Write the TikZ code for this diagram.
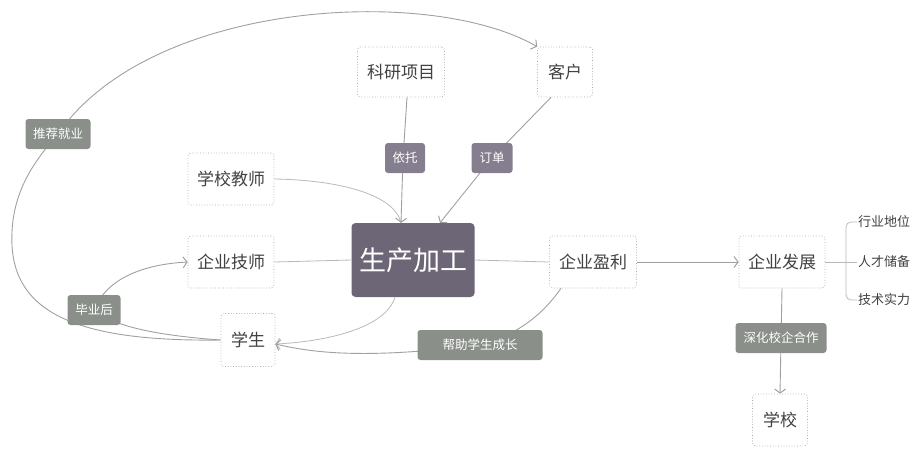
\documentclass[tikz,border=0pt]{standalone}
\usepackage{fontspec}
\newfontfamily\cjk{Noto Sans CJK SC}
\usetikzlibrary{arrows.meta,calc}
\definecolor{tagG}{RGB}{138,143,138}
\definecolor{tagP}{RGB}{133,126,143}
\definecolor{core}{RGB}{108,102,118}
\definecolor{lnc}{RGB}{160,160,160}
\definecolor{lnl}{RGB}{185,185,185}
\definecolor{bdc}{RGB}{165,165,165}
\definecolor{txc}{RGB}{65,65,65}
\tikzset{
  box/.style={draw=bdc, dotted, line width=0.7pt, rounded corners=3pt, fill=white, text=txc,
    minimum height=52pt, inner sep=0pt, font=\cjk\fontsize{17}{17}\selectfont},
  tagbox/.style={rounded corners=3pt, text=white, minimum height=30pt, inner sep=0pt,
    font=\cjk\fontsize{12.5}{12.5}\selectfont},
  item/.style={text=txc, anchor=west, inner sep=1pt, font=\cjk\fontsize{13}{13}\selectfont},
  ln/.style={draw=lnc, line width=0.9pt},
  lnlight/.style={draw=lnl, line width=0.8pt},
  tip/.style={-{Straight Barb[length=4pt,width=11pt,line width=1pt]}},
}
\begin{document}
\begin{tikzpicture}[x=1pt,y=-1pt]
\useasboundingbox (0,0) rectangle (915,450);
% nodes
\node[box, minimum width=87pt, minimum height=50pt] (ky) at (401,72) {科研项目};
\node[box, minimum width=55pt, minimum height=50pt] (kh) at (565,72) {客户};
\node[box, minimum width=86pt] (xj) at (231,179) {学校教师};
\node[box, minimum width=86pt] (js) at (231,262) {企业技师};
\node[rounded corners=4pt, fill=core, text=white, minimum width=123pt, minimum height=74pt,
  inner sep=0pt, font=\cjk\fontsize{27}{27}\selectfont] (sc) at (413,260) {生产加工};
\node[box, minimum width=87pt] (yl) at (593,262) {企业盈利};
\node[box, minimum width=86pt] (fz) at (782,262) {企业发展};
\node[box, minimum width=54pt, minimum height=53pt] (xs) at (248,340) {学生};
\node[box, minimum width=55pt] (xx) at (780,420) {学校};
\node[item] (hy) at (857,222) {行业地位};
\node[item] (rc) at (857,262) {人才储备};
\node[item] (jl) at (857,300) {技术实力};
% connector paths (drawn before tags)
\coordinate (lft) at (12,232);
\draw[ln] (xs.west) .. controls (70,342) and (8,310) .. (lft)
  .. controls (14,185) and (40,155) .. (58,134);
\draw[ln, tip] (58,134) .. controls (150,0) and (430,-15) .. (kh.north west);
\draw[ln, tip] (xs.west) .. controls (165,336) and (115,328) .. (94,310)
  .. controls (108,275) and (150,264) .. (js.west);
\draw[lnlight] (xj.east) .. controls (340,180) and (395,195) .. ([xshift=-12pt]sc.north);
\draw[ln, tip] ([xshift=6pt]ky.south) -- (403,158) -- ([xshift=-12pt]sc.north);
\draw[ln, tip] ([xshift=-14pt]kh.south) -- (492,158) -- ([xshift=27pt]sc.north);
\draw[lnlight] (js.east) -- (sc.west);
\draw[lnlight] (sc.east) -- (yl.west);
\draw[ln, tip] (yl.east) -- (fz.west);
\draw[lnlight, tip] ([xshift=-18pt]sc.south) .. controls (385,330) and (320,342) .. ([yshift=-4pt]xs.east);
\draw[ln] ([xshift=-32pt]yl.south) .. controls (540,318) and (515,335) .. (480,345);
\draw[ln, tip] (480,345) .. controls (360,360) and (310,352) .. ([yshift=-4pt]xs.east);
\draw[ln, tip] (fz.south) -- (xx.north);
\draw[lnlight] (fz.east) -- (rc.west);
\draw[lnlight, rounded corners=5pt] (hy.west) -- ++(-11,0) |- (jl.west);
% tags
\node[tagbox, fill=tagG, minimum width=65pt] (tj) at (58,134) {推荐就业};
\node[tagbox, fill=tagP, minimum width=40pt] (yt) at (405,158) {依托};
\node[tagbox, fill=tagP, minimum width=41pt] (dd) at (492,158) {订单};
\node[tagbox, fill=tagG, minimum width=53pt] (byh) at (94,310) {毕业后};
\node[tagbox, fill=tagG, minimum width=125pt] (bz) at (480,345) {帮助学生成长};
\node[tagbox, fill=tagG, minimum width=91pt] (sh) at (781,338) {深化校企合作};
\end{tikzpicture}
\end{document}
